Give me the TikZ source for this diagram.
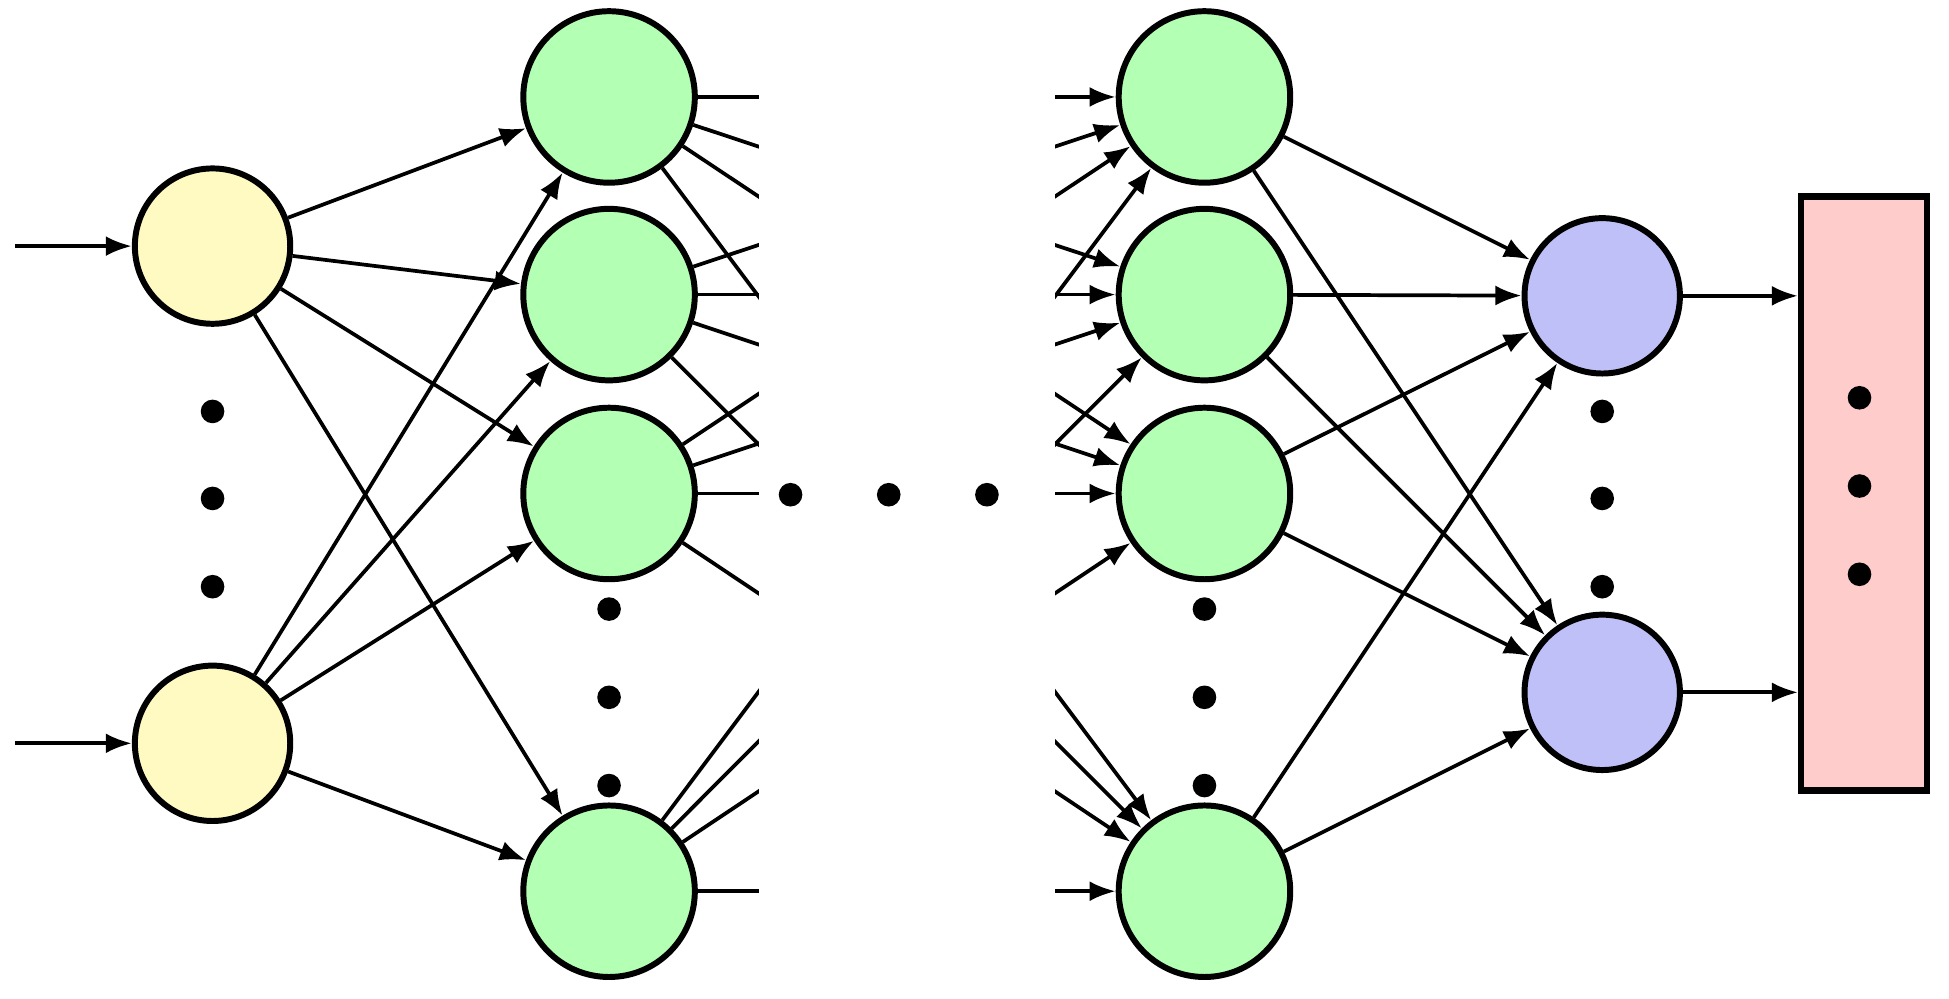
\documentclass[tikz,border=0pt]{standalone}
\usetikzlibrary{arrows.meta}
\definecolor{nyel}{HTML}{FFF9C2}
\definecolor{ngrn}{HTML}{B3FFB3}
\definecolor{nblu}{HTML}{C0C0F8}
\definecolor{npnk}{HTML}{FFCCCC}
\begin{document}
\begin{tikzpicture}[x=0.5pt,y=-0.5pt,
  neuron/.style={circle,draw=black,line width=2.4pt,inner sep=0pt},
  yel/.style={neuron,fill=nyel,minimum size=62.5pt},
  grn/.style={neuron,fill=ngrn,minimum size=69pt},
  blu/.style={neuron,fill=nblu,minimum size=62.5pt},
  dotn/.style={circle,fill=black,inner sep=0pt,minimum size=9.5pt},
  conn/.style={line width=1.5pt,-{Latex[length=10.5pt,width=8pt]}}]
\useasboundingbox (0,0) rectangle (1568,803.7);
% nodes
\node[yel] (y1) at (171,198) {};
\node[yel] (y2) at (171,598) {};
\foreach \i/\yy in {1/78,2/237,3/397,4/717}{
  \node[grn] (a\i) at (490,\yy) {};
  \node[grn] (c\i) at (969,\yy) {};
}
\node[blu] (b1) at (1289,238) {};
\node[blu] (b2) at (1289,557) {};
\node[draw=black,fill=npnk,line width=2.5pt,inner sep=0pt,minimum width=50.5pt,minimum height=239pt] (out) at (1499.5,397) {};
\coordinate (in1) at (12,198);
\coordinate (in2) at (12,598);
% input arrows
\draw[conn] (in1) -- (y1);
\draw[conn] (in2) -- (y2);
% yellow to first hidden layer
\foreach \i in {1,2,3,4}{
  \draw[conn] (y1) -- (a\i);
  \draw[conn] (y2) -- (a\i);
}
% first hidden to last hidden (middle hidden)
\foreach \i in {1,2,3,4}{
  \foreach \j in {1,2,3,4}{
    \draw[conn] (a\i) -- (c\j);
  }
}
\fill[white] (611,-10) rectangle (849,820);
% last hidden to output
\foreach \i in {1,2,3,4}{
  \draw[conn] (c\i) -- (b1);
  \draw[conn] (c\i) -- (b2);
}
\draw[conn] (b1) -- (b1 -| out.west);
\draw[conn] (b2) -- (b2 -| out.west);
% dots
\foreach \yy [count=\k] in {331,401,472}{
  \node[dotn] (yd\k) at (171,\yy) {};
  \node[dotn] (bd\k) at (1289,\yy) {};
}
\foreach \yy [count=\k] in {490,561,632}{
  \node[dotn] (ad\k) at (490,\yy) {};
  \node[dotn] (cd\k) at (969,\yy) {};
}
\foreach \yy [count=\k] in {320,391,462}{
  \node[dotn] (od\k) at (1496,\yy) {};
}
\foreach \xx [count=\k] in {636,715,794}{
  \node[dotn] (md\k) at (\xx,398) {};
}
\end{tikzpicture}
\end{document}
